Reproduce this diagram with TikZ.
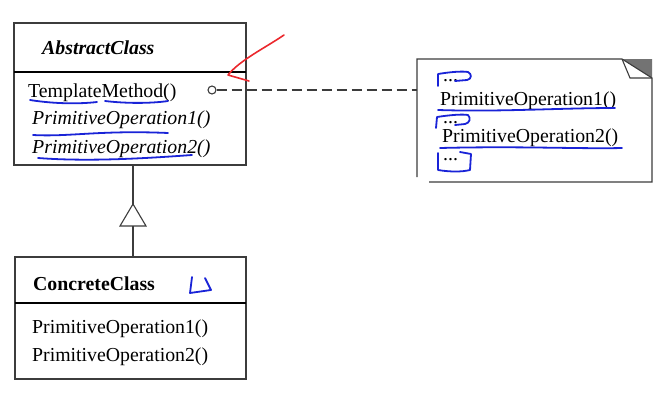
\documentclass[tikz,border=0pt]{standalone}
\usepackage{fontspec}
\setmainfont{Liberation Serif}
\definecolor{linegray}{RGB}{60,60,60}
\definecolor{inkblue}{RGB}{25,35,215}
\definecolor{inkred}{RGB}{235,40,45}
\definecolor{foldgray}{RGB}{115,115,115}
\begin{document}
\begin{tikzpicture}[x=1pt,y=-1pt,
  classbox/.style={draw=linegray,line width=1.1pt,rectangle,inner sep=0pt},
  divider/.style={draw=black,line width=1.1pt},
  txt/.style={anchor=base west,inner sep=0pt,font=\fontsize{19.8}{24}\selectfont},
  conn/.style={draw=linegray,line width=1.1pt},
  ink/.style={draw=inkblue,line width=1.8pt,line cap=round,line join=round},
  redink/.style={draw=inkred,line width=1.6pt,line cap=round,line join=round}]
\useasboundingbox (0,0) rectangle (666,402);

% AbstractClass
\node[classbox,minimum width=232pt,minimum height=142pt] (abs) at (130,94) {};
\draw[divider] (14,72) -- (246,72);
\node[txt,font=\fontsize{19.8}{24}\selectfont\bfseries\itshape] (absname) at (42,54) {AbstractClass};
\node[txt] (tm) at (28,97) {TemplateMethod()};
\node[txt,font=\fontsize{19.8}{24}\selectfont\itshape] (apo1) at (32,124) {PrimitiveOperation1()};
\node[txt,font=\fontsize{19.8}{24}\selectfont\itshape] (apo2) at (32,153) {PrimitiveOperation2()};

% ConcreteClass
\node[classbox,minimum width=231pt,minimum height=122pt] (con) at (130.5,318) {};
\draw[divider] (15,303) -- (246,303);
\node[txt,font=\fontsize{19.8}{24}\selectfont\bfseries] (conname) at (33,290) {ConcreteClass};
\node[txt] (cpo1) at (32,333) {PrimitiveOperation1()};
\node[txt] (cpo2) at (32,361) {PrimitiveOperation2()};

% generalization
\coordinate (apex) at (133,204);
\coordinate (tribase) at (133,226);
\draw[conn] (abs.south -| apex) -- (apex);
\draw[conn,fill=white] (apex) -- (146,226) -- (120,226) -- cycle;
\draw[conn] (tribase) -- (con.north -| tribase);

% note
\node[minimum width=235pt,minimum height=121pt,inner sep=0pt] (note) at (534.5,120) {};
\fill[foldgray] (622,59) -- (652,59) -- (652,78) -- cycle;
\draw[conn] (417,177) -- (417,59) -- (622,59) -- (652,78) -- (652,182) -- (429,182);
\draw[conn] (622,59) -- (630,78) -- (652,78);
\node[txt] (d1) at (443,81) {...};
\node[txt] (npo1) at (440,105) {PrimitiveOperation1()};
\node[txt] (d2) at (443,123) {...};
\node[txt] (npo2) at (442,142) {PrimitiveOperation2()};
\node[txt] (d3) at (443,160) {...};

% dashed note link
\node[circle,draw=linegray,line width=1.1pt,minimum size=8pt,inner sep=0pt] (dot) at (212,90) {};
\draw[conn,dash pattern=on 10pt off 5pt] (dot.east) -- (note.west |- dot.east);

% red arrow
\draw[redink] (284,35) .. controls (265,48) and (240,60) .. (228,75) -- (249,81);

% blue annotations
\draw[ink] (30,100) .. controls (55,104) and (80,104) .. (97,102);
\draw[ink] (105,101) .. controls (130,104) and (155,103) .. (168,101);
\draw[ink] (33,135) .. controls (70,137) and (100,130) .. (168,133);
\draw[ink] (38,158) .. controls (90,162) and (150,158) .. (192,155);
\draw[ink] (192,277) -- (190,293) -- (211,290) -- (205,278);
\draw[ink] (438,110) .. controls (500,112) and (560,108) .. (615,108);
\draw[ink] (440,148) .. controls (520,146) and (580,149) .. (622,148);
\draw[ink] (438,86) -- (438,74) .. controls (450,72) and (462,71) .. (468,72) .. controls (472,74) and (472,79) .. (467,80) -- (455,81);
\draw[ink] (436,128) -- (437,117) .. controls (450,115) and (462,114) .. (468,115) .. controls (471,118) and (470,123) .. (465,124) -- (455,125);
\draw[ink] (438,153) -- (438,170) .. controls (450,172) and (462,172) .. (470,170) -- (471,154) -- (460,152);
\end{tikzpicture}
\end{document}
